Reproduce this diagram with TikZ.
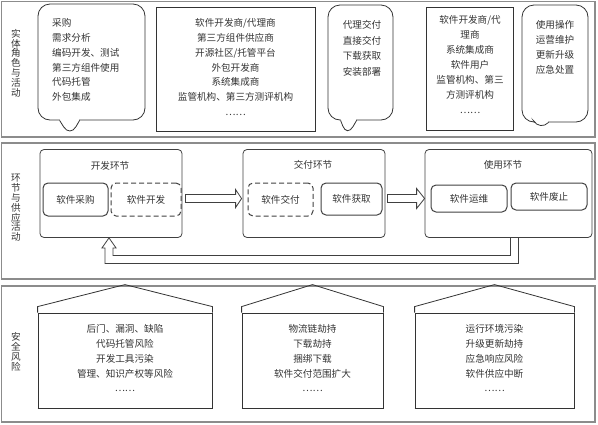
\documentclass[tikz,border=0pt]{standalone}
\usepackage{fontspec}
\setmainfont{Noto Sans CJK SC}
\usetikzlibrary{calc}

\begin{document}
\begin{tikzpicture}[x=1pt, y=-1pt,
  panel/.style={draw=black!45, line width=1.3pt},
  bubble/.style={draw=black!80, rounded corners=12pt, line width=0.8pt},
  listbox/.style={draw=black!80, line width=0.8pt},
  txt/.style={inner sep=0pt, text=black!80, font=\fontsize{9.6}{14.8}\selectfont},
  vlabel/.style={inner sep=0pt, text=black!80, align=center, font=\fontsize{9.6}{9.8}\selectfont},
  stage/.style={draw=black!75, rounded corners=4pt, line width=0.8pt},
  act/.style={draw=black!75, rounded corners=5pt, line width=1pt, inner sep=0pt, text=black!80, font=\fontsize{9.6}{11}\selectfont},
  actdash/.style={act, dash pattern=on 5pt off 3pt},
  hollow/.style={draw=black!75, line width=0.8pt, fill=white},
  house/.style={draw=black!80, line width=0.8pt}
]
\useasboundingbox (0,0) rectangle (598,424);

% three bands
\draw[panel] (1.5,1.5) rectangle (595,137);
\draw[panel] (1.5,143) rectangle (595,279);
\draw[panel] (1.5,286) rectangle (595,422);

\node[vlabel] (lab1) at (16,63) {实\\体\\角\\色\\与\\活\\动};
\node[vlabel] (lab2) at (16,208) {环\\节\\与\\供\\应\\活\\动};
\node[vlabel] (lab3) at (16,352) {安\\全\\风\\险};

%% band 1: roles and activities
\node[bubble, minimum width=107pt, minimum height=116pt] (b1) at (91.5,62) {};
\node[listbox, minimum width=159pt, minimum height=124pt] (r2) at (235.5,69) {};
\node[bubble, minimum width=65pt, minimum height=115pt] (b3) at (360.5,62.5) {};
\node[listbox, minimum width=87pt, minimum height=123pt] (r4) at (469.5,68.5) {};
\node[bubble, minimum width=66pt, minimum height=117pt] (b5) at (555,63.5) {};

% pointers of the bubbles
\coordinate (p1) at (70,137);
\coordinate (p3) at (347,137);
\coordinate (p5) at (540,131);
\fill[white] ($(b1.south west)+(22.5,-1.5)$) rectangle ($(b1.south west)+(41.5,1.5)$);
\draw[bubble] ($(b1.south west)+(22,0)$) -- (p1) -- ($(b1.south west)+(42,0)$);
\fill[white] ($(b3.south west)+(13.5,-1.5)$) rectangle ($(b3.south west)+(28.5,1.5)$);
\draw[bubble] ($(b3.south west)+(13,0)$) -- (p3) -- ($(b3.south west)+(29,0)$);
\fill[white] ($(b5.south west)+(13.5,-1.5)$) rectangle ($(b5.south west)+(26.5,1.5)$);
\draw[bubble] ($(b5.south west)+(13,0)$) -- (p5) -- ($(b5.south west)+(27,0)$);

\node[txt, align=left, anchor=north west] (t1) at (52,18.4)
  {采购\\需求分析\\编码开发、测试\\第三方组件使用\\代码托管\\外包集成};
\node[txt, align=center, anchor=north] (t2) at (235.5,18.4)
  {软件开发商/代理商\\第三方组件供应商\\开源社区/托管平台\\外包开发商\\系统集成商\\监管机构、第三方测评机构\\……};
\node[txt, align=center, anchor=north, font=\fontsize{9.6}{15.5}\selectfont] (t3) at (362,20.4)
  {代理交付\\直接交付\\下载获取\\安装部署};
\node[txt, align=center, anchor=north, font=\fontsize{9.6}{15}\selectfont] (t4) at (470,15.4)
  {软件开发商/代\\理商\\系统集成商\\软件用户\\监管机构、第三\\方测评机构\\……};
\node[txt, align=center, anchor=north, font=\fontsize{9.6}{15}\selectfont] (t5) at (555,20.4)
  {使用操作\\运营维护\\更新升级\\应急处置};

%% band 2: stages
\node[stage, minimum width=142pt, minimum height=88pt] (dev) at (111,193.5) {};
\node[stage, minimum width=142pt, minimum height=88pt] (del) at (314,193.5) {};
\node[stage, minimum width=167pt, minimum height=88pt] (use) at (508.5,193.5) {};

\node[txt] (devt) at (110,166) {开发环节};
\node[txt] (delt) at (313,165) {交付环节};
\node[txt] (uset) at (503,165) {使用环节};

\node[act, minimum width=65pt, minimum height=33pt] (buy) at (75.5,199.5) {软件采购};
\node[actdash, minimum width=70pt, minimum height=33pt] (code) at (146,199.5) {软件开发};
\node[actdash, minimum width=65pt, minimum height=33pt] (give) at (280.5,199.5) {软件交付};
\node[act, minimum width=61pt, minimum height=32pt] (get) at (351.5,199) {软件获取};
\node[act, minimum width=76pt, minimum height=27pt] (run) at (469,198.5) {软件运维};
\node[act, minimum width=76pt, minimum height=27pt] (stop) at (549,196.5) {软件废止};

% hollow arrows between the stages
\coordinate (a1s) at ($(dev.east)+(3,5)$);
\coordinate (a1e) at ($(del.west)+(-1,5)$);
\draw[hollow] ($(a1s)+(0,-4)$) -- ($(a1e)+(-6,-4)$) -- ++(0,-5) -- (a1e)
  -- ($(a1e)+(-6,9)$) -- ++(0,-5) -- ($(a1s)+(0,4)$) -- cycle;
\coordinate (a2s) at ($(del.east)+(2,5)$);
\coordinate (a2e) at ($(use.west)+(0,5)$);
\draw[hollow] ($(a2s)+(0,-4)$) -- ($(a2e)+(-8,-4)$) -- ++(0,-6) -- (a2e)
  -- ($(a2e)+(-8,10)$) -- ++(0,-6) -- ($(a2s)+(0,4)$) -- cycle;

% way back from use to development
\coordinate (fbR) at ($(use.south)+(2,0)$);
\coordinate (fbL) at ($(dev.south)+(-2,0)$);
\draw[hollow, fill=none] (fbR) -- ++(0,17.5) -| ($(fbL)+(4,10)$) -- ++(3,0) -- (fbL)
  -- ++(-7,10) -- ++(3,0) |- ($(fbR)+(8,25.5)$) -- ($(fbR)+(8,0)$);

%% band 3: risks
\node[house, minimum width=174pt, minimum height=95pt] (h1) at (125,360.5) {};
\node[house, minimum width=141pt, minimum height=95pt] (h2) at (312.5,360.5) {};
\node[house, minimum width=159pt, minimum height=95pt] (h3) at (494.5,360.5) {};
\foreach \h in {h1,h2,h3}{
  \draw[house] (\h.north west) -- ++(0,-6) -- ($(\h.north)+(0,-28)$)
    -- ($(\h.north east)+(0,-6)$) -- (\h.north east);
  \draw[line width=1.6pt, black!80] (\h.south west) -- (\h.south east);
}

\node[txt, align=center, anchor=north] (r1) at (125,324.4)
  {后门、漏洞、缺陷\\代码托管风险\\开发工具污染\\管理、知识产权等风险\\……};
\node[txt, align=center, anchor=north] (r2t) at (312.5,324.4)
  {物流链劫持\\下载劫持\\捆绑下载\\软件交付范围扩大\\……};
\node[txt, align=center, anchor=north] (r3) at (494.5,324.4)
  {运行环境污染\\升级更新劫持\\应急响应风险\\软件供应中断\\……};

\end{tikzpicture}
\end{document}
